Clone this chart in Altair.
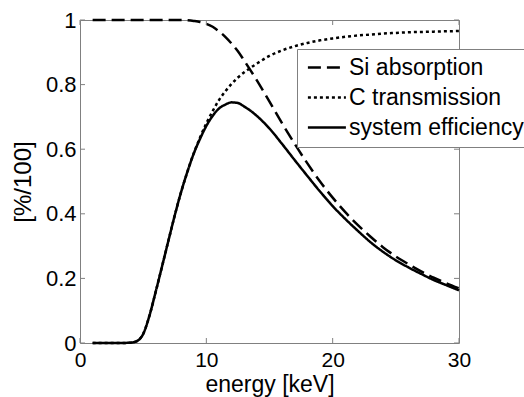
import altair as alt
import pandas as pd

energy = [1, 2, 3, 4, 4.5, 5, 5.5, 6, 6.5, 7, 7.5, 8, 8.5, 9, 9.5, 10, 10.5, 11, 11.5, 12,
          12.5, 13, 13.5, 14, 15, 16, 17, 18, 19, 20, 21, 22, 23, 24, 25, 26, 27, 28, 29, 30]
si_absorption = [1.0, 1.0, 1.0, 1.0, 1.0, 1.0, 1.0, 1.0, 1.0, 1.0, 1.0, 1.0, 0.999, 0.997,
                 0.994, 0.988, 0.979, 0.965, 0.948, 0.927, 0.903, 0.874, 0.844, 0.813,
                 0.747, 0.680, 0.616, 0.556, 0.500, 0.450, 0.405, 0.365, 0.329, 0.296,
                 0.268, 0.244, 0.222, 0.202, 0.185, 0.169]
c_transmission = [0.0, 0.0, 0.0, 0.001, 0.006, 0.028, 0.085, 0.16, 0.238, 0.317, 0.395,
                  0.467, 0.53, 0.587, 0.636, 0.68, 0.718, 0.752, 0.779, 0.802, 0.822, 0.838,
                  0.852, 0.865, 0.889, 0.906, 0.919, 0.929, 0.937, 0.943, 0.948, 0.952,
                  0.955, 0.958, 0.960, 0.962, 0.963, 0.964, 0.965, 0.966]
system_efficiency = [0.0, 0.0, 0.0, 0.001, 0.006, 0.028, 0.085, 0.16, 0.238, 0.317, 0.395,
                     0.467, 0.53, 0.586, 0.632, 0.672, 0.703, 0.726, 0.738, 0.745, 0.743,
                     0.732, 0.719, 0.703, 0.664, 0.616, 0.566, 0.517, 0.469, 0.424, 0.384,
                     0.347, 0.312, 0.282, 0.256, 0.234, 0.214, 0.195, 0.179, 0.163]
series_names = ["Si absorption", "C transmission", "system efficiency"]
x_ticks = [0, 10, 20, 30]
y_ticks = [0, 0.2, 0.4, 0.6, 0.8, 1]

rows = []
for name, vals in zip(series_names, [si_absorption, c_transmission, system_efficiency]):
    for e, v in zip(energy, vals):
        rows.append({"energy": e, "value": v, "series": name})
df = pd.DataFrame(rows)

W, H = 379, 323
GRAY = "#808080"
FONT = "Liberation Sans"

x_scale = alt.Scale(domain=[0, 30], nice=False, zero=False)
y_scale = alt.Scale(domain=[0, 1], nice=False)

x_axis = alt.Axis(values=x_ticks, format="~g", title="energy [keV]", domain=False,
                  ticks=False, grid=False, labelFontSize=21, labelPadding=6,
                  labelFlush=False, labelOverlap=False,
                  labelFont=FONT, labelColor="black", titleFont=FONT,
                  titleFontSize=23, titleFontWeight="normal", titleColor="black",
                  titleY=48, titleBaseline="alphabetic")
y_axis = alt.Axis(values=y_ticks, format="~g", title="[%/100]", domain=False,
                  ticks=False, grid=False, labelFontSize=22, labelPadding=4,
                  labelFlush=False, labelOverlap=False,
                  labelFont=FONT, labelColor="black", titleFont=FONT,
                  titleFontSize=24, titleFontWeight="normal", titleColor="black",
                  titleX=-50, titleY=H / 2, titleBaseline="alphabetic",
                  titleAngle=270)

lines = alt.Chart(df).mark_line(color="black", strokeWidth=2.5, interpolate="monotone").encode(
    x=alt.X("energy:Q", scale=x_scale, axis=x_axis, title="energy [keV]"),
    y=alt.Y("value:Q", scale=y_scale, axis=y_axis, title="[%/100]"),
    strokeDash=alt.StrokeDash(
        "series:N",
        scale=alt.Scale(domain=series_names, range=[[13, 6], [3, 3], [1, 0]]),
        legend=alt.Legend(title=None, orient="none", legendX=217, legendY=29,
                          symbolType="M-1,0H4", symbolSize=231, symbolStrokeWidth=2.5,
                          symbolStrokeColor="black", labelFontSize=23, labelFont=FONT,
                          labelColor="black", labelOffset=22, padding=7, rowPadding=6,
                          strokeColor=GRAY, fillColor="white", labelLimit=400),
    ),
)

xt = pd.DataFrame({"energy": x_ticks})
yt = pd.DataFrame({"value": y_ticks})

tick_style = dict(color=GRAY, strokeWidth=1)
bottom_ticks = alt.Chart(xt).mark_rule(**tick_style).encode(
    x=alt.X("energy:Q", scale=x_scale, title="energy [keV]"),
    y=alt.value(H), y2=alt.value(H - 5))
top_ticks = alt.Chart(xt).mark_rule(**tick_style).encode(
    x=alt.X("energy:Q", scale=x_scale, title="energy [keV]"),
    y=alt.value(0), y2=alt.value(5))
left_ticks = alt.Chart(yt).mark_rule(**tick_style).encode(
    y=alt.Y("value:Q", scale=y_scale, title="[%/100]"),
    x=alt.value(0), x2=alt.value(5))
right_ticks = alt.Chart(yt).mark_rule(**tick_style).encode(
    y=alt.Y("value:Q", scale=y_scale, title="[%/100]"),
    x=alt.value(W), x2=alt.value(W - 5))

chart = alt.layer(lines, bottom_ticks, top_ticks, left_ticks, right_ticks).properties(
    width=W, height=H,
    autosize=alt.AutoSizeParams(type="none"),
    padding={"left": 80, "top": 20, "right": 65, "bottom": 54},
    background="white",
).configure_view(stroke=GRAY, strokeWidth=1)

chart.save("out.html", embed_options={"renderer": "svg", "actions": False})
